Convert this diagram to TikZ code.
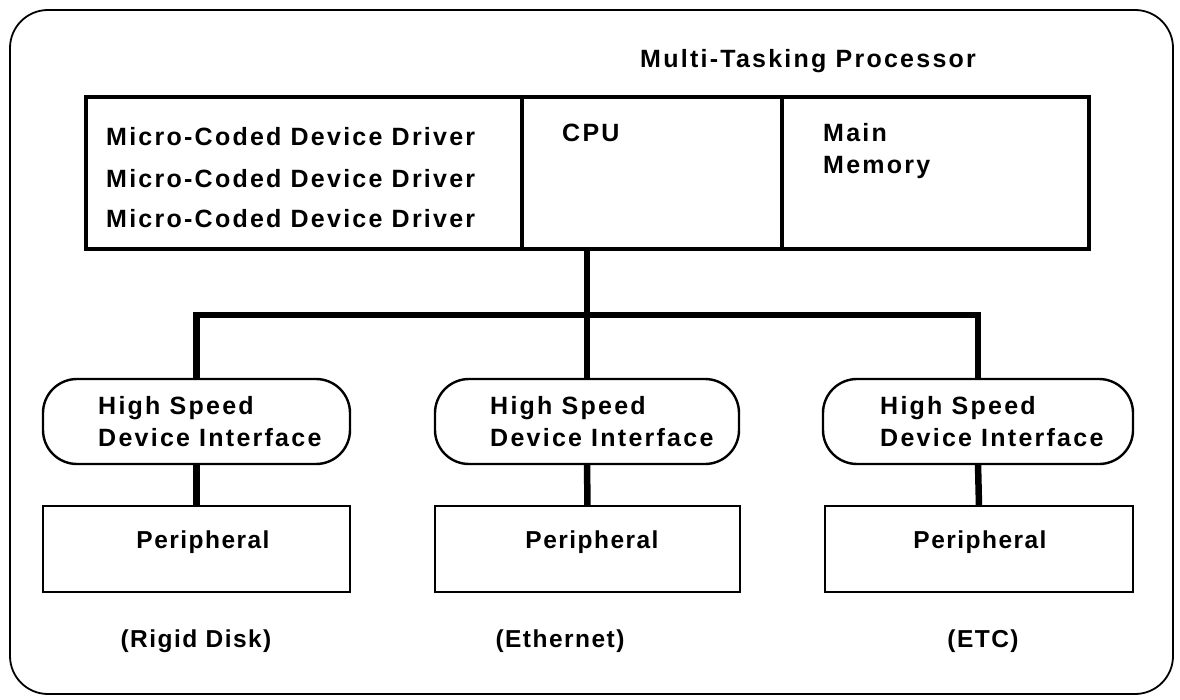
\documentclass[tikz,border=0pt]{standalone}
\usepackage{fontspec}
\newfontfamily\lblfont{Liberation Sans}[LetterSpace=9]
\newfontfamily\perfont{Liberation Sans}[LetterSpace=6]
\begin{document}
\begin{tikzpicture}[x=1pt,y=-1pt,
  txt/.style={font=\lblfont\bfseries\fontsize{25}{30}\selectfont, inner sep=0pt, anchor=base west},
  ctxt/.style={font=\perfont\bfseries\fontsize{24.5}{30}\selectfont, inner sep=0pt, anchor=base},
  frame/.style={draw, line width=1.8pt, rounded corners=38pt, minimum width=1163pt, minimum height=684pt, inner sep=0pt},
  unit/.style={draw, line width=4pt, minimum height=152pt, inner sep=0pt, outer sep=0pt},
  iface/.style={draw, line width=2.4pt, rounded corners=34pt, minimum height=85pt, inner sep=0pt, outer sep=0pt},
  perbox/.style={draw, line width=2.4pt, minimum height=86pt, inner sep=0pt, outer sep=0pt},
  bus/.style={line width=6.5pt, line join=miter}
]
\useasboundingbox (0,0) rectangle (1180,700);

% enclosing system frame
\node[frame] (outer) at (591.5,352) {};
\node[txt] (title) at (640,68) {Multi-Tasking Processor};

% processor units
\node[unit, minimum width=436pt] (drv) at (304,173) {};
\node[unit, minimum width=260pt] (cpu) at (652,173) {};
\node[unit, minimum width=307pt] (mem) at (935.5,173) {};

\node[txt] (d1) at (106,146) {Micro-Coded Device Driver};
\node[txt] (d2) at (106,188) {Micro-Coded Device Driver};
\node[txt] (d3) at (106,228) {Micro-Coded Device Driver};
\node[txt] (cpul) at (562,142) {CPU};
\node[txt] (meml1) at (823,142) {Main};
\node[txt] (meml2) at (823,174) {Memory};

% device interfaces
\node[iface, minimum width=307pt] (if1) at (196.5,421.5) {};
\node[iface, minimum width=304pt] (if2) at (587,421.5) {};
\node[iface, minimum width=310pt] (if3) at (978,421.5) {};

\node[txt] (h1a) at (98,414) {High Speed};
\node[txt] (h1b) at (98,446) {Device Interface};
\node[txt] (h2a) at (490,414) {High Speed};
\node[txt] (h2b) at (490,446) {Device Interface};
\node[txt] (h3a) at (880,414) {High Speed};
\node[txt] (h3b) at (880,446) {Device Interface};

% peripherals
\node[perbox, minimum width=307pt] (p1) at (196.5,549) {};
\node[perbox, minimum width=305pt] (p2) at (587.5,549) {};
\node[perbox, minimum width=308pt] (p3) at (979,549) {};

\node[ctxt] (p1l) at (203,548) {Peripheral};
\node[ctxt] (p2l) at (592,548) {Peripheral};
\node[ctxt] (p3l) at (980,548) {Peripheral};

\node[ctxt] (r1) at (196,647) {(Rigid Disk)};
\node[ctxt] (r2) at (560,647) {(Ethernet)};
\node[ctxt] (r3) at (983,647) {(ETC)};

% system bus
\coordinate (j) at (587,315);
\draw[bus] (cpu.south -| if2.north) -- (if2.north);
\draw[bus] (if1.north) -- (if1.north |- j) -- (if3.north |- j) -- (if3.north);

% interface to peripheral links
\draw[bus] (if1.south) -- (p1.north);
\draw[bus] (if2.south) -- (p2.north);
\draw[bus] (if3.south) -- (p3.north);
\end{tikzpicture}
\end{document}
